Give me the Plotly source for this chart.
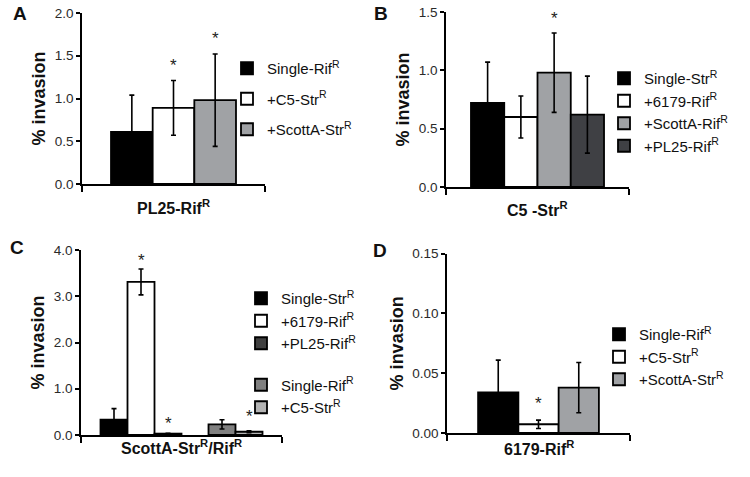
import plotly.graph_objects as go

# ---------------- data ----------------
A_category = "PL25-Rif<sup>R</sup>"
A_series = ["Single-Rif<sup>R</sup>", "+C5-Str<sup>R</sup>", "+ScottA-Str<sup>R</sup>"]
A_values = [0.61, 0.89, 0.98]
A_errors = [0.43, 0.32, 0.54]
A_star_y = [None, 1.42, 1.74]
A_group = [1, 1, 1]

B_category = "C5 -Str<sup>R</sup>"
B_series = ["Single-Str<sup>R</sup>", "+6179-Rif<sup>R</sup>", "+ScottA-Rif<sup>R</sup>", "+PL25-Rif<sup>R</sup>"]
B_values = [0.72, 0.60, 0.98, 0.62]
B_errors = [0.35, 0.18, 0.34, 0.33]
B_star_y = [None, None, 1.47, None]
B_group = [1, 1, 1, 1]

C_category = "ScottA-Str<sup>R</sup>/Rif<sup>R</sup>"
C_series = ["Single-Str<sup>R</sup>", "+6179-Rif<sup>R</sup>", "+PL25-Rif<sup>R</sup>",
            "Single-Rif<sup>R</sup>", "+C5-Str<sup>R</sup>"]
C_values = [0.33, 3.31, 0.03, 0.23, 0.07]
C_errors = [0.24, 0.28, 0.005, 0.10, 0.02]
C_star_y = [None, 3.83, 0.32, None, 0.46]
C_group = [1, 1, 1, 2, 2]

D_category = "6179-Rif<sup>R</sup>"
D_series = ["Single-Rif<sup>R</sup>", "+C5-Str<sup>R</sup>", "+ScottA-Str<sup>R</sup>"]
D_values = [0.034, 0.0073, 0.038]
D_errors = [0.027, 0.0035, 0.021]
D_star_y = [None, 0.027, None]
D_group = [1, 1, 1]

# ---------------- styles ----------------
FONT = "Liberation Sans, Arial, sans-serif"
A_colors = ["#000000", "#ffffff", "#a0a2a5"]
B_colors = ["#000000", "#ffffff", "#a0a2a5", "#3f4044"]
C_colors = ["#000000", "#ffffff", "#404040", "#808080", "#b4b4b4"]
D_colors = ["#000000", "#ffffff", "#a0a2a5"]

panels = [
    dict(label="A", cat=A_category, series=A_series, values=A_values, errors=A_errors,
         star=A_star_y, group=A_group, colors=A_colors, gap=0.317,
         ymax=2.0, dtick=0.5, fmt=".1f",
         xdom=[82/750, 265/750], ydom=[1-184/477, 1-13/477], cat_dy=23,
         lab_xy=(20, 14), leg_xy=(227, 52), per_trace_groups=True, tgap=8),
    dict(label="B", cat=B_category, series=B_series, values=B_values, errors=B_errors,
         star=B_star_y, group=B_group, colors=B_colors, gap=0.273,
         ymax=1.5, dtick=0.5, fmt=".1f",
         xdom=[446/750, 629/750], ydom=[1-187/477, 1-12/477], cat_dy=22,
         lab_xy=(381, 13), leg_xy=(604, 62), per_trace_groups=False, tgap=0),
    dict(label="C", cat=C_category, series=C_series, values=C_values, errors=C_errors,
         star=C_star_y, group=C_group, colors=C_colors, gap=0.194,
         ymax=4.0, dtick=1.0, fmt=".1f",
         xdom=[81/750, 282/750], ydom=[1-435/477, 1-250/477], cat_dy=12,
         lab_xy=(17, 247), leg_xy=(241, 282), per_trace_groups=False, tgap=19),
    dict(label="D", cat=D_category, series=D_series, values=D_values, errors=D_errors,
         star=D_star_y, group=D_group, colors=D_colors, gap=0.34,
         ymax=0.15, dtick=0.05, fmt=".2f",
         xdom=[447/750, 630/750], ydom=[1-433/477, 1-253.7/477], cat_dy=15,
         lab_xy=(380, 251), leg_xy=(599, 318), per_trace_groups=False, tgap=0),
]

fig = go.Figure()
layout = dict(
    width=750, height=477,
    margin=dict(l=0, r=0, t=0, b=0, autoexpand=False),
    paper_bgcolor="white", plot_bgcolor="white",
    font=dict(family=FONT, color="#222222", size=13),
    barmode="overlay",
    annotations=[],
)

for k, p in enumerate(panels, start=1):
    xa = "x" if k == 1 else f"x{k}"
    ya = "y" if k == 1 else f"y{k}"
    leg = "legend" if k == 1 else f"legend{k}"
    # slot positions: bars contiguous within a group, one empty slot between groups
    pos, slot, prev = [], 0, None
    for g in p["group"]:
        if prev is not None and g != prev:
            slot += 1
        pos.append(slot)
        slot += 1
        prev = g
    n = slot
    total = n / (1 - p["gap"])
    pad = (total - n) / 2
    lo, hi = -0.5 - pad, n - 0.5 + pad

    for i, (name, v, e, c) in enumerate(zip(p["series"], p["values"], p["errors"], p["colors"])):
        if p["per_trace_groups"]:
            lg = f"{p['label']}{i}"
        else:
            lg = f"{p['label']}g{p['group'][i]}"
        fig.add_trace(go.Bar(
            x=[pos[i]], y=[v], width=1, name=name,
            marker=dict(color=c, line=dict(color="black", width=1.8)),
            error_y=dict(type="data", array=[e], visible=True, color="black",
                         thickness=1.6, width=2.5),
            xaxis=xa, yaxis=ya, legend=leg, legendgroup=lg,
        ))
    for i, s in enumerate(p["star"]):
        if s is None:
            continue
        layout["annotations"].append(dict(
            text="*", x=pos[i], y=s, xref=xa, yref=ya, showarrow=False,
            xanchor="center", yanchor="middle", yshift=-3,
            font=dict(size=17, color="#222222", family=FONT),
        ))

    # category label under the x axis
    layout["annotations"].append(dict(
        text=f"<b>{p['cat']}</b>", x=0.5, y=0,
        xref=f"{xa} domain", yref=f"{ya} domain", showarrow=False,
        xanchor="center", yanchor="middle", yshift=-p["cat_dy"],
        font=dict(size=16, color="#111111", family=FONT),
    ))

    axkey = "xaxis" if k == 1 else f"xaxis{k}"
    aykey = "yaxis" if k == 1 else f"yaxis{k}"
    layout[axkey] = dict(
        domain=p["xdom"], anchor=ya, range=[lo, hi], automargin=False,
        showline=True, linecolor="black", linewidth=1.5,
        tickmode="array", tickvals=[lo, hi], ticktext=["", ""],
        ticks="outside", ticklen=6, tickwidth=1.5, tickcolor="black",
        showgrid=False, zeroline=False, fixedrange=True,
    )
    layout[aykey] = dict(
        domain=p["ydom"], anchor=xa, range=[0, p["ymax"]], automargin=False,
        tick0=0, dtick=p["dtick"], tickformat=p["fmt"],
        showline=True, linecolor="black", linewidth=1.5,
        ticks="outside", ticklen=4, tickwidth=1.5, tickcolor="black",
        showgrid=False, zeroline=False, fixedrange=True,
        tickfont=dict(size=13.5, color="#2a2a2a"),
        title=dict(text="<b>% invasion</b>", standoff=4,
                   font=dict(size=18, color="#111111", family=FONT)),
    )
    lx, ly = p["leg_xy"]
    layout[leg] = dict(
        x=lx / 750, y=1 - ly / 477, xanchor="left", yanchor="top",
        xref="paper", yref="paper",
        bgcolor="rgba(0,0,0,0)", borderwidth=0,
        font=dict(size=15, color="#111111", family=FONT),
        tracegroupgap=p["tgap"], itemwidth=30, traceorder="grouped",
        itemclick=False, itemdoubleclick=False,
    )
    ax, ay = p["lab_xy"]
    layout["annotations"].append(dict(
        text=f"<b>{p['label']}</b>", x=ax / 750, y=1 - ay / 477,
        xref="paper", yref="paper", showarrow=False,
        xanchor="center", yanchor="middle",
        font=dict(size=19, color="#111111", family=FONT),
    ))

fig.update_layout(**layout)
fig.write_html("out.html", config={"displayModeBar": False},
               post_script="document.body.style.margin='0px';")
